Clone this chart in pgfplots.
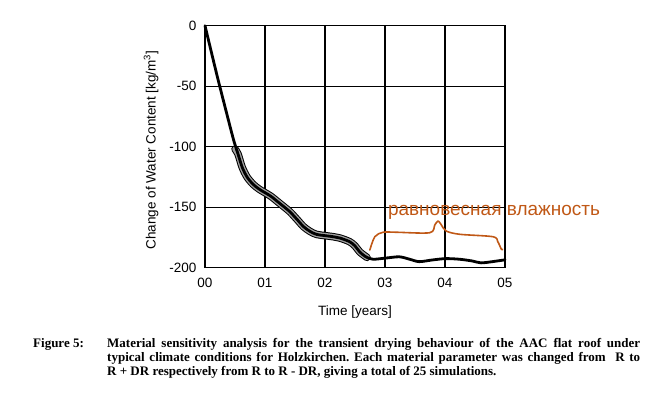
\documentclass[border=0pt]{standalone}
\usepackage{pgfplots}
\pgfplotsset{compat=1.18}
\usepackage{fontspec}
\setmainfont{Liberation Sans}
\newfontfamily\capfont{Liberation Serif}
\definecolor{annot}{RGB}{192,88,22}
\definecolor{bandgray}{RGB}{160,160,160}
\begin{document}
\begin{tikzpicture}[x=1pt,y=1pt]
\useasboundingbox (0,0) rectangle (657,394);
\begin{axis}[
  at={(205pt,126.3pt)}, anchor=south west,
  scale only axis, width=300pt, height=242pt,
  xmin=0, xmax=5, ymin=-200, ymax=0,
  xtick={0,1,2,3,4,5}, xticklabels={00,01,02,03,04,05},
  ytick={-200,-150,-100,-50,0}, yticklabels={-200,-150,-100,-50,0},
  major tick length=0pt,
  grid=major,
  major grid style={black, line width=1.1pt},
  axis line style={black, line width=1.4pt},
  ticklabel style={font=\fontsize{13.5}{16}\selectfont, inner sep=0pt},
  yticklabel style={anchor=east, xshift=-8.5pt},
  xticklabel style={anchor=north, yshift=-10pt},
  label style={font=\fontsize{13.5}{16}\selectfont},
  xlabel={Time [years]},
  xlabel style={at={(axis description cs:0.5,-0.182)}, anchor=center},
  ylabel={Change of Water Content [kg/m\textsuperscript{3}]},
  ylabel style={at={(axis description cs:-0.18,0.486)}, anchor=center},
  clip=false,
]
% band region (sensitivity spread)
\addplot[black, line width=7.5pt, line cap=round, line join=round, smooth] coordinates {
(0.5,-102) (0.55,-106) (0.62,-117) (0.7,-125) (0.8,-131) (0.9,-135) (1.0,-138)
(1.1,-141) (1.2,-145) (1.3,-149) (1.42,-154) (1.55,-161) (1.64,-166) (1.75,-170)
(1.86,-172.5) (2.0,-173.5) (2.15,-174.5) (2.25,-175.5) (2.41,-178.5) (2.5,-182)
(2.58,-187) (2.7,-191.5)
};
\addplot[bandgray, line width=5.5pt, line cap=round, line join=round, smooth] coordinates {
(0.5,-102) (0.55,-106) (0.62,-117) (0.7,-125) (0.8,-131) (0.9,-135) (1.0,-138)
(1.1,-141) (1.2,-145) (1.3,-149) (1.42,-154) (1.55,-161) (1.64,-166) (1.75,-170)
(1.86,-172.5) (2.0,-173.5) (2.15,-174.5) (2.25,-175.5) (2.41,-178.5) (2.5,-182)
(2.58,-187) (2.7,-191.5)
};
% mean curve
\addplot[black, line width=2.8pt, line cap=round, line join=round, smooth] coordinates {
(0,0) (0.2,-41) (0.39,-78) (0.48,-95) (0.55,-106) (0.62,-117) (0.7,-125) (0.8,-131)
(0.9,-135) (1.0,-138) (1.1,-141) (1.2,-145) (1.3,-149) (1.42,-154) (1.55,-161)
(1.64,-166) (1.75,-170) (1.86,-172.5) (2.0,-173.5) (2.15,-174.5) (2.25,-175.5)
(2.41,-178.5) (2.5,-182) (2.58,-187) (2.68,-191) (2.8,-193) (3.02,-192) (3.24,-191)
(3.41,-193) (3.57,-195) (3.79,-193.6) (4.01,-192.5) (4.24,-193) (4.46,-194.5)
(4.6,-196) (4.79,-195) (5.0,-193.5)
};
% hand-drawn bracket annotation
\draw[annot, line width=1.6pt, line cap=round, line join=round] plot[smooth, tension=0.5] coordinates {
(axis cs:2.747,-185.4) (axis cs:2.83,-174.4) (axis cs:2.97,-170.7) (axis cs:3.19,-170.7)
(axis cs:3.746,-171.1) (axis cs:3.83,-164.7) (axis cs:3.885,-161.4) (axis cs:3.94,-164.7)
(axis cs:4.02,-169.7) (axis cs:4.246,-172.4) (axis cs:4.80,-174.4) (axis cs:4.88,-178.5)
(axis cs:4.94,-184.8) (axis cs:4.96,-184.8)
};
\node[annot, anchor=base west, inner sep=0pt, font=\fontsize{19}{22}\selectfont] at (axis cs:3.047,-157) {равновесная влажность};
\end{axis}
\node[anchor=base west, inner sep=0pt, font=\capfont\bfseries\fontsize{13}{14}\selectfont] at (33,46) {Figure 5:};
\node[anchor=base west, inner sep=0pt] at (107,46) {\parbox[t]{533pt}{\fontsize{13}{14}\selectfont\capfont\bfseries\frenchspacing Material sensitivity analysis for the transient drying behaviour of the AAC flat roof under\linebreak typical climate conditions for Holzkirchen. Each material parameter was changed from \ R to\linebreak R + DR respectively from R to R - DR, giving a total of 25 simulations.}};
\end{tikzpicture}
\end{document}
